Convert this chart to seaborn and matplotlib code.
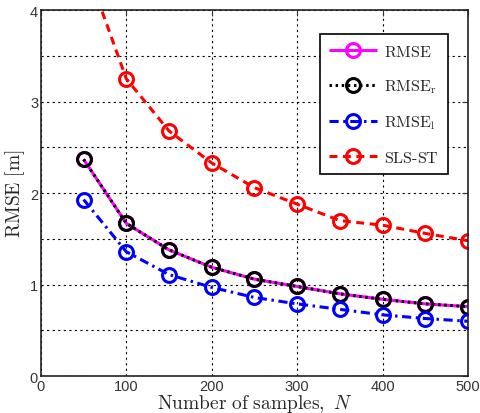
import numpy as np
import pandas as pd
import matplotlib
matplotlib.use("Agg")
import matplotlib.pyplot as plt
import seaborn as sns

# values
samples = [50, 100, 150, 200, 250, 300, 350, 400, 450, 500]
rmse = [2.37, 1.67, 1.38, 1.19, 1.06, 0.98, 0.90, 0.84, 0.79, 0.76]
rmse_r = [2.37, 1.67, 1.38, 1.19, 1.06, 0.98, 0.90, 0.84, 0.79, 0.76]
rmse_l = [1.93, 1.36, 1.11, 0.97, 0.86, 0.79, 0.73, 0.67, 0.63, 0.60]
sls_st = [4.55, 3.25, 2.68, 2.33, 2.06, 1.88, 1.70, 1.65, 1.56, 1.48]

sns.set_style("white")
plt.rcParams['font.family'] = ['Liberation Sans', 'DejaVu Sans']
plt.rcParams['mathtext.fontset'] = 'cm'

fig = plt.figure(figsize=(4.81, 4.14), dpi=100)
ax = fig.add_axes([0.085, 0.089, 0.888, 0.884])

# one entry per series: label, values, colour, dash pattern
series = [
    (r'$\mathrm{RMSE}$', rmse, 'magenta', (0, ())),
    (r'$\mathrm{RMSE_r}$', rmse_r, 'black', (0, (0.8, 1.2))),
    (r'$\mathrm{RMSE_l}$', rmse_l, 'blue', (0, (3, 1.5, 0.8, 1.5))),
    (r'$\mathrm{SLS\text{-}ST}$', sls_st, 'red', (0, (2.6, 1.8))),
]
for label, vals, col, ls in series:
    sns.lineplot(x=samples, y=vals, ax=ax, color=col, linestyle=ls, linewidth=2.2,
                 marker='o', markersize=10, markerfacecolor='none',
                 markeredgecolor=col, markeredgewidth=2.2, label=label)

ax.set_xlim(0, 500)
ax.set_ylim(0, 4)
ax.set_xticks([0, 100, 200, 300, 400, 500])
ax.set_yticks([0, 1, 2, 3, 4])
ax.set_yticks([0.5, 1.5, 2.5, 3.5], minor=True)
ax.grid(True, which='both', color='black', linestyle=(0, (2, 3)), linewidth=0.8)
ax.tick_params(direction='in', labelsize=10.5, length=4, top=True, right=True,
               which='both', colors='#333333', pad=2)
ax.tick_params(which='minor', length=0)
for s in ax.spines.values():
    s.set_color('#222222')
    s.set_linewidth(1.2)

ax.set_xlabel(r'$\mathrm{Number\ of\ samples,}\ N$', fontsize=14, labelpad=-1)
ax.set_ylabel(r'$\mathrm{RMSE\ [m]}$', fontsize=14, labelpad=2)

leg = ax.legend(loc='upper right', bbox_to_anchor=(0.953, 0.934), borderaxespad=0,
                fontsize=11.5, handlelength=3.0, labelspacing=1.15, borderpad=0.6,
                handletextpad=0.4, fancybox=False, framealpha=1, edgecolor='black')
leg.get_frame().set_linewidth(1.2)

fig.savefig('out.png', dpi=100)
